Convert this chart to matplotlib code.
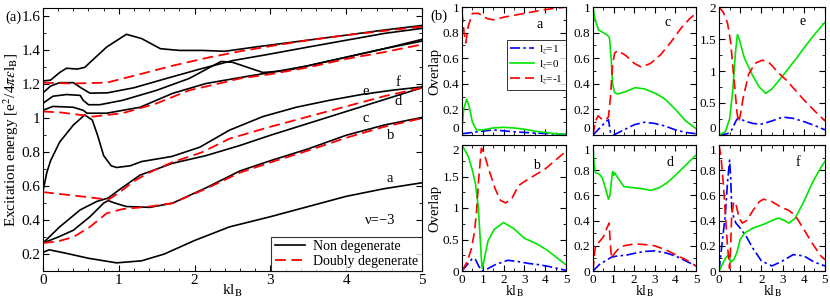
import numpy as np
import matplotlib
matplotlib.use('Agg')
import matplotlib.pyplot as plt
from matplotlib.ticker import MultipleLocator, FuncFormatter

plt.rcParams['font.family'] = ['Liberation Serif', 'DejaVu Serif']
plt.rcParams['mathtext.fontset'] = 'stix'

# ---- panel (a): excitation energies ----
# non degenerate (black)
a_x = [0, 0.08, 0.3, 0.6, 0.97, 1.3, 1.6, 2, 2.46, 3, 3.5, 4, 4.5, 5]
a_y = [0.21, 0.225, 0.205, 0.175, 0.148, 0.16, 0.2, 0.28, 0.36, 0.42, 0.48, 0.54, 0.585, 0.62]

c_x = [0, 0.2, 0.4, 0.62, 0.8, 0.86, 0.95, 1.1, 1.41, 1.71, 2.15, 2.6, 3, 3.5, 4, 4.5, 5]
c_y = [0.265, 0.3, 0.34, 0.42, 0.5, 0.515, 0.5, 0.48, 0.475, 0.5, 0.59, 0.69, 0.75, 0.82, 0.9, 0.96, 1.005]

d_x = [0, 0.22, 0.49, 0.71, 0.86, 1.01, 1.28, 1.71, 2.15, 2.6, 3, 3.5, 4, 4.5, 5]
d_y = [0.265, 0.36, 0.46, 0.51, 0.53, 0.58, 0.665, 0.735, 0.78, 0.84, 0.9, 0.97, 1.04, 1.11, 1.18]

e_x = [0, 0.05, 0.1, 0.22, 0.4, 0.55, 0.65, 0.72, 0.8, 0.9, 0.97, 1.15, 1.3, 1.7, 2.07, 2.46, 2.9, 3.34, 3.78, 4.2, 4.6, 5]
e_y = [0.57, 0.68, 0.75, 0.86, 0.96, 1.02, 0.99, 0.9, 0.78, 0.72, 0.71, 0.72, 0.745, 0.775, 0.83, 0.93, 1.01, 1.065, 1.106, 1.14, 1.165, 1.185]

g_x = [0, 0.13, 0.4, 0.53, 0.58, 0.84, 1.28, 1.71, 2.15, 2.6, 3, 3.5, 4, 4.5, 5]
g_y = [1.047, 1.07, 1.065, 1.047, 1.03, 1.03, 1.065, 1.147, 1.205, 1.24, 1.27, 1.31, 1.36, 1.41, 1.455]

h_x = [0, 0.13, 0.31, 0.49, 0.53, 0.6, 0.75, 1.05, 1.5, 1.93, 2.2, 2.35, 2.5, 2.7, 2.9, 3.2, 3.6, 4, 4.5, 5]
h_y = [1.088, 1.13, 1.14, 1.135, 1.106, 1.08, 1.08, 1.106, 1.165, 1.235, 1.3, 1.335, 1.33, 1.3, 1.27, 1.28, 1.32, 1.36, 1.41, 1.465]

k_x = [0, 0.1, 0.22, 0.4, 0.5, 0.62, 0.85, 1.2, 1.63, 2.07, 2.5, 2.95, 3.5, 4, 4.5, 5]
k_y = [1.15, 1.19, 1.21, 1.21, 1.18, 1.148, 1.15, 1.18, 1.235, 1.29, 1.34, 1.375, 1.42, 1.46, 1.5, 1.53]

m_x = [0, 0.1, 0.22, 0.31, 0.45, 0.55, 0.84, 1.1, 1.3, 1.55, 1.8, 2.1, 2.4, 2.8, 3.4, 4, 4.5, 5]
m_y = [1.22, 1.225, 1.27, 1.295, 1.29, 1.3, 1.42, 1.495, 1.47, 1.41, 1.4, 1.4, 1.395, 1.42, 1.455, 1.49, 1.52, 1.547]

# doubly degenerate (red dashed)
r1_x = [0, 0.4, 0.84, 1.28, 1.71, 2.15, 2.6, 3, 3.5, 4, 4.5, 5]
r1_y = [1.21, 1.205, 1.21, 1.26, 1.31, 1.355, 1.395, 1.425, 1.46, 1.49, 1.515, 1.54]

r2_x = [0, 0.22, 0.53, 0.66, 1.05, 1.5, 1.93, 2.37, 2.6, 3, 3.5, 4, 4.5, 5]
r2_y = [1.04, 1.035, 1.018, 1.01, 1.03, 1.088, 1.165, 1.21, 1.235, 1.26, 1.3, 1.35, 1.39, 1.435]

r3_x = [0, 0.3, 0.6, 0.86, 1.0, 1.2, 1.4, 1.7, 2.1, 2.46, 3, 3.5, 4, 4.5, 5]
r3_y = [0.565, 0.55, 0.535, 0.52, 0.56, 0.63, 0.68, 0.74, 0.8, 0.88, 0.95, 1.01, 1.07, 1.13, 1.18]

r4_x = [0, 0.2, 0.4, 0.62, 0.84, 1.05, 1.41, 1.71, 2.15, 2.6, 3, 3.5, 4, 4.5, 5]
r4_y = [0.265, 0.275, 0.3, 0.36, 0.44, 0.465, 0.48, 0.5, 0.585, 0.68, 0.74, 0.81, 0.885, 0.95, 1.0]

black_curves = [(a_x, a_y), (c_x, c_y), (d_x, d_y), (e_x, e_y), (g_x, g_y), (h_x, h_y), (k_x, k_y), (m_x, m_y)]
red_curves = [(r1_x, r1_y), (r2_x, r2_y), (r3_x, r3_y), (r4_x, r4_y)]

# ---- panel (b): overlaps, (l_z=1 blue, l_z=0 green, l_z=-1 red) ----
ov = {
    'a': dict(
        blue=([0, 0.5, 1.5, 2.5, 3.5, 5], [0.01, 0.02, 0.04, 0.025, 0.015, 0.005]),
        green=([0, 0.08, 0.22, 0.35, 0.5, 0.7, 1, 1.5, 2, 2.5, 3, 3.5, 4, 4.5, 5],
               [0.05, 0.2, 0.28, 0.22, 0.1, 0.04, 0.04, 0.055, 0.06, 0.055, 0.045, 0.03, 0.02, 0.01, 0.005]),
        red=([0, 0.1, 0.18, 0.3, 0.5, 0.8, 1.2, 1.5, 2, 3, 4, 5],
             [0.96, 0.8, 0.72, 0.85, 0.95, 0.95, 0.91, 0.9, 0.92, 0.95, 0.98, 1.0])),
    'c': dict(
        blue=([0, 0.3, 0.6, 0.75, 0.85, 1.0, 1.5, 2, 2.5, 3, 3.5, 4, 4.5, 5],
              [0, 0.05, 0.1, 0.12, 0.02, 0.0, 0.04, 0.08, 0.1, 0.09, 0.07, 0.04, 0.02, 0.01]),
        green=([0, 0.1, 0.27, 0.5, 0.7, 0.8, 0.88, 0.95, 1.05, 1.2, 1.6, 2.05, 2.5, 3.1, 3.5, 4, 4.5, 5],
               [1.0, 0.9, 0.82, 0.8, 0.78, 0.76, 0.6, 0.4, 0.33, 0.32, 0.34, 0.37, 0.36, 0.32, 0.28, 0.2, 0.11, 0.05]),
        red=([0, 0.1, 0.25, 0.45, 0.6, 0.75, 0.85, 0.95, 1.05, 1.2, 1.6, 2.0, 2.35, 2.8, 3.3, 3.8, 4.3, 4.7, 5],
             [0, 0.1, 0.15, 0.12, 0.12, 0.14, 0.3, 0.55, 0.64, 0.66, 0.62, 0.56, 0.53, 0.56, 0.63, 0.73, 0.84, 0.91, 0.95])),
    'e': dict(
        blue=([0, 0.4, 0.6, 0.8, 0.9, 1.2, 1.6, 2.0, 2.5, 3.0, 3.5, 4, 4.5, 5],
              [0, 0.02, 0.08, 0.22, 0.27, 0.22, 0.18, 0.17, 0.22, 0.28, 0.26, 0.21, 0.15, 0.08]),
        green=([0, 0.3, 0.5, 0.65, 0.78, 0.87, 0.95, 1.2, 1.6, 1.9, 2.2, 2.5, 2.9, 3.3, 3.7, 4.1, 4.5, 5],
               [0, 0.05, 0.25, 0.7, 1.3, 1.57, 1.5, 1.2, 0.92, 0.75, 0.65, 0.72, 0.88, 1.05, 1.22, 1.4, 1.57, 1.76]),
        red=([0, 0.2, 0.4, 0.55, 0.7, 0.85, 0.92, 1.0, 1.15, 1.4, 1.7, 2.05, 2.4, 2.8, 3.2, 3.6, 4, 4.5, 5],
             [2.0, 1.92, 1.75, 1.45, 0.9, 0.35, 0.2, 0.3, 0.6, 0.95, 1.12, 1.17, 1.12, 0.97, 0.85, 0.7, 0.55, 0.38, 0.22])),
    'b': dict(
        blue=([0, 0.25, 0.5, 0.65, 0.8, 0.95, 1.2, 1.6, 2.2, 2.7, 3.2, 3.7, 4.2, 4.6, 5],
              [0, 0.1, 0.2, 0.18, 0.08, 0.0, 0.03, 0.1, 0.17, 0.15, 0.12, 0.1, 0.07, 0.04, 0.01]),
        green=([0, 0.3, 0.5, 0.65, 0.78, 0.85, 0.93, 0.97, 1.05, 1.25, 1.55, 2.0, 2.5, 3.0, 3.6, 4.1, 4.6, 5],
               [2.0, 1.82, 1.6, 1.38, 1.02, 0.65, 0.2, 0.04, 0.15, 0.48, 0.66, 0.77, 0.67, 0.52, 0.43, 0.33, 0.2, 0.1]),
        red=([0, 0.25, 0.45, 0.6, 0.7, 0.8, 0.93, 1.05, 1.3, 1.6, 1.85, 2.1, 2.4, 2.7, 3.0, 3.5, 4.0, 4.5, 5],
             [0, 0.15, 0.35, 0.62, 0.95, 1.45, 1.95, 1.88, 1.6, 1.3, 1.12, 1.08, 1.15, 1.35, 1.42, 1.52, 1.62, 1.76, 1.9])),
    'd': dict(
        blue=([0, 0.3, 0.6, 0.9, 1.2, 1.6, 2.0, 2.5, 3.0, 3.5, 4.0, 4.5, 5],
              [0, 0.05, 0.08, 0.11, 0.12, 0.125, 0.14, 0.155, 0.16, 0.145, 0.12, 0.08, 0.04]),
        green=([0, 0.05, 0.12, 0.3, 0.45, 0.6, 0.75, 0.82, 0.9, 0.95, 1.0, 1.05, 1.2, 1.5, 2.0, 2.5, 2.8, 3.2, 3.6, 4.0, 4.5, 5],
               [1.0, 0.85, 0.78, 0.77, 0.74, 0.66, 0.57, 0.6, 0.72, 0.79, 0.76, 0.78, 0.74, 0.67, 0.66, 0.65, 0.64, 0.66, 0.7, 0.76, 0.84, 0.92]),
        red=([0, 0.08, 0.15, 0.3, 0.5, 0.65, 0.78, 0.85, 0.9, 1.0, 1.2, 1.5, 2.0, 2.5, 3.0, 3.5, 4.0, 4.5, 5],
             [0, 0.15, 0.22, 0.23, 0.27, 0.33, 0.38, 0.2, 0.1, 0.13, 0.17, 0.2, 0.215, 0.21, 0.2, 0.17, 0.13, 0.09, 0.04])),
    'f': dict(
        blue=([0, 0.1, 0.2, 0.3, 0.4, 0.5, 0.55, 0.6, 0.7, 0.8, 1.0, 1.3, 1.6, 2.0, 2.5, 3.0, 3.5, 4.0, 4.5, 5],
              [0, 0.15, 0.3, 0.45, 0.7, 0.88, 0.75, 0.5, 0.42, 0.38, 0.34, 0.27, 0.18, 0.08, 0.04, 0.08, 0.13, 0.12, 0.07, 0.04]),
        green=([0, 0.15, 0.3, 0.45, 0.55, 0.7, 0.85, 1.0, 1.2, 1.6, 2.1, 2.5, 2.8, 3.1, 3.3, 3.6, 4.0, 4.4, 4.8, 5],
               [0, 0.05, 0.1, 0.13, 0.07, 0.09, 0.15, 0.25, 0.3, 0.34, 0.37, 0.4, 0.42, 0.4, 0.38, 0.42, 0.55, 0.7, 0.82, 0.87]),
        red=([0, 0.1, 0.2, 0.3, 0.4, 0.5, 0.55, 0.6, 0.7, 0.8, 0.95, 1.1, 1.3, 1.6, 1.9, 2.1, 2.5, 2.9, 3.3, 3.6, 4.0, 4.4, 4.8, 5],
             [1.0, 0.9, 0.7, 0.45, 0.2, 0.02, 0.2, 0.45, 0.55, 0.53, 0.42, 0.38, 0.4, 0.48, 0.55, 0.57, 0.55, 0.51, 0.48, 0.44, 0.33, 0.22, 0.12, 0.09])),
}
ov_ymax = {'a': 1, 'c': 1, 'e': 2, 'b': 2, 'd': 1, 'f': 1}

RED = '#ff0000'
GREEN = '#00e600'
BLUE = '#0000ff'


def fmt(v, pos):
    return ('%g' % round(v, 2))


def style_ax(ax, xmin, ymin):
    ax.tick_params(which='both', direction='in', top=True, right=True, labelsize=9.5, pad=2)
    ax.tick_params(which='major', length=4)
    ax.tick_params(which='minor', length=2)
    ax.xaxis.set_minor_locator(MultipleLocator(xmin))
    ax.yaxis.set_minor_locator(MultipleLocator(ymin))
    ax.xaxis.set_major_formatter(FuncFormatter(fmt))
    ax.yaxis.set_major_formatter(FuncFormatter(fmt))


fig = plt.figure(figsize=(8.3, 2.99), dpi=100)

# panel (a)
ax = fig.add_axes([43 / 830, 1 - 271 / 299, 379 / 830, 263 / 299])
for xs, ys in black_curves:
    ax.plot(xs, ys, color='black', lw=1.2)
for xs, ys in red_curves:
    ax.plot(xs, ys, color=RED, lw=1.3, dashes=(6, 3))
ax.plot([], [], color='black', lw=1.2, label='Non degenerate')
ax.plot([], [], color=RED, lw=1.3, dashes=(6, 3), label='Doubly degenerate')
ax.set_xlim(0, 5)
ax.set_ylim(0.1, 1.65)
ax.xaxis.set_major_locator(MultipleLocator(1))
ax.yaxis.set_major_locator(MultipleLocator(0.2))
style_ax(ax, 0.2, 0.1)
ax.tick_params(labelsize=11)
ax.set_xlabel(r'kl$_\mathrm{B}$', fontsize=11, labelpad=-3)
ax.set_ylabel(r'Excitation energy [e$^2$/4$\pi\epsilon$l$_\mathrm{B}$]', fontsize=11, labelpad=0.5)
leg = ax.legend(loc='lower right', fontsize=10, frameon=True, fancybox=False,
                borderaxespad=0, handlelength=2.2, handletextpad=0.6, borderpad=0.25,
                labelspacing=0.1)
leg.get_frame().set_edgecolor('black')
leg.get_frame().set_linewidth(0.8)
for lab, lx, ly in [('e', 4.25, 1.155), ('f', 4.68, 1.21), ('d', 4.68, 1.10),
                    ('c', 4.26, 0.996), ('b', 4.59, 0.90), ('a', 4.58, 0.648)]:
    ax.text(lx, ly, lab, fontsize=10.5, ha='center', va='center')
ax.text(4.45, 0.395, 'ν=−3', fontsize=10.5, ha='center', va='center')
fig.text(5 / 830, 1 - 17 / 299, '(a)', fontsize=10.5, va='center')
fig.text(430 / 830, 1 - 16 / 299, '(b)', fontsize=10.5, va='center')

# panel (b)
cols = [(462, 104), (593, 103), (719, 106)]
rows = [(7, 128), (145, 126)]
order = [['a', 'c', 'e'], ['b', 'd', 'f']]
pos_lab = {'a': (3.75, 0.86), 'c': (3.64, 0.875), 'e': (3.96, 1.77),
           'b': (3.57, 1.68), 'd': (3.74, 0.865), 'f': (3.7, 0.865)}
sub_axes = []
for ri, (rtop, rh) in enumerate(rows):
    for ci, (cl, cw) in enumerate(cols):
        key = order[ri][ci]
        bx = fig.add_axes([cl / 830, 1 - (rtop + rh) / 299, cw / 830, rh / 299])
        d = ov[key]
        bx.plot(*d['blue'], color=BLUE, lw=1.2, dashes=(6, 2, 1.5, 2), label='l$_z$=1')
        bx.plot(*d['green'], color=GREEN, lw=1.2, label='l$_z$=0')
        bx.plot(*d['red'], color=RED, lw=1.2, dashes=(6, 3), label='l$_z$=-1')
        ym = ov_ymax[key]
        bx.set_xlim(0, 5)
        bx.set_ylim(0, ym)
        bx.xaxis.set_major_locator(MultipleLocator(1))
        if ym == 2:
            bx.yaxis.set_major_locator(MultipleLocator(0.5))
            style_ax(bx, 0.5, 0.25)
        else:
            bx.yaxis.set_major_locator(MultipleLocator(0.2))
            style_ax(bx, 0.5, 0.1)
        bx.text(*pos_lab[key], key, fontsize=10, ha='center', va='center')
        if ci == 0:
            bx.set_ylabel('Overlap', fontsize=10.5, labelpad=1)
        if ri == 0:
            bx.tick_params(labelbottom=False)
        else:
            bx.set_xlabel(r'kl$_\mathrm{B}$', fontsize=10, labelpad=-2)
        if key == 'a':
            lg = bx.legend(loc='center right', bbox_to_anchor=(1.0, 0.55), fontsize=8,
                           frameon=True, fancybox=False, borderaxespad=0,
                           handlelength=2.2, handletextpad=0.4, borderpad=0.3,
                           labelspacing=0.2)
            lg.get_frame().set_edgecolor('black')
            lg.get_frame().set_linewidth(0.7)
        sub_axes.append((ri, bx, ym))

# keep the touching tick labels between the two rows apart
fig.canvas.draw()
for ri, bx, ym in sub_axes:
    for tick in bx.yaxis.get_major_ticks():
        loc = tick.get_loc()
        if ri == 0 and abs(loc) < 1e-9:
            tick.label1.set_va('bottom')
        if ri == 1 and abs(loc - ym) < 1e-9:
            tick.label1.set_va('top')

fig.savefig('out.png', dpi=100)
